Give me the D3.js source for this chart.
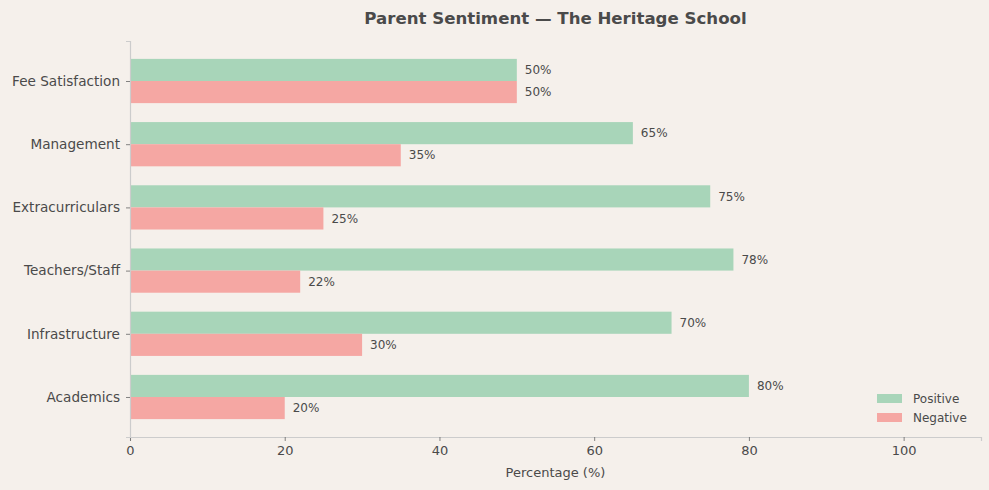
<!DOCTYPE html>
<html>
<head>
<meta charset="utf-8">
<script src="https://cdn.jsdelivr.net/npm/d3@7"></script>
<style>
  body { margin: 0; background: #f5f0eb; }
  svg, svg text { font-family: "DejaVu Sans", sans-serif; }
</style>
</head>
<body>
<div id="chart"></div>
<script>
const categories = ["Fee Satisfaction", "Management", "Extracurriculars", "Teachers/Staff", "Infrastructure", "Academics"];
const positive = [50, 65, 75, 78, 70, 80];
const negative = [50, 35, 25, 22, 30, 20];
const xTicks = [0, 20, 40, 60, 80, 100];
const seriesNames = ["Positive", "Negative"];
const colors = ["#a8d5b9", "#f5a7a3"];

const W = 989, H = 490;
const margin = { top: 41, right: 8, bottom: 53, left: 130 };
const width = W - margin.left - margin.right;
const height = H - margin.top - margin.bottom;
const textColor = "#4a4a4a";
const font = "DejaVu Sans, sans-serif";

const svg = d3.select("#chart").append("svg")
  .attr("width", W).attr("height", H);

svg.append("rect").attr("width", W).attr("height", H).attr("fill", "#f5f0eb");

const g = svg.append("g")
  .attr("transform", "translate(" + margin.left + "," + margin.top + ")");

const x = d3.scaleLinear().domain([0, 110]).range([0, width]);
const y = d3.scalePoint().domain(categories).range([0, height]).padding(0.633);
const step = y.step();
const barH = step * 0.35;

// bars
const data = categories.map((c, i) => ({ cat: c, pos: positive[i], neg: negative[i] }));

g.selectAll(".bar-pos").data(data).enter().append("rect")
  .attr("x", x(0))
  .attr("y", d => y(d.cat) - barH)
  .attr("width", d => x(d.pos) - x(0))
  .attr("height", barH)
  .attr("fill", colors[0]);

g.selectAll(".bar-neg").data(data).enter().append("rect")
  .attr("x", x(0))
  .attr("y", d => y(d.cat))
  .attr("width", d => x(d.neg) - x(0))
  .attr("height", barH)
  .attr("fill", colors[1]);

g.selectAll(".lab-pos").data(data).enter().append("text")
  .attr("x", d => x(d.pos) + 8)
  .attr("y", d => y(d.cat) - barH / 2)
  .attr("dy", "0.35em")
  .attr("fill", textColor)
  .style("font-size", "12px")
  .text(d => d.pos + "%");

g.selectAll(".lab-neg").data(data).enter().append("text")
  .attr("x", d => x(d.neg) + 8)
  .attr("y", d => y(d.cat) + barH / 2)
  .attr("dy", "0.35em")
  .attr("fill", textColor)
  .style("font-size", "12px")
  .text(d => d.neg + "%");

// axes
const xAxis = g.append("g")
  .attr("transform", "translate(0," + height + ")")
  .call(d3.axisBottom(x).tickValues(xTicks).tickSize(4).tickPadding(5));

const yAxis = g.append("g")
  .call(d3.axisLeft(y).tickSize(4).tickPadding(6));

[xAxis, yAxis].forEach(a => {
  a.attr("font-family", font).attr("font-size", 13);
  a.select(".domain").attr("stroke", "#cccccc").attr("stroke-width", 1.2);
  a.selectAll(".tick line").attr("stroke", "#666").attr("stroke-width", 0.8);
  a.selectAll(".tick text").attr("fill", textColor).style("font-size", "13px").style("font-family", font);
});
yAxis.selectAll(".tick text").style("font-size", "13.6px");

g.append("text")
  .attr("x", width / 2)
  .attr("y", height + 40)
  .attr("text-anchor", "middle")
  .attr("fill", textColor)
  .style("font-size", "13px")
  .text("Percentage (%)");

// title
g.append("text")
  .attr("x", width / 2)
  .attr("y", -17)
  .attr("text-anchor", "middle")
  .attr("fill", textColor)
  .style("font-size", "16.6px")
  .style("font-weight", "bold")
  .text("Parent Sentiment \u2014 The Heritage School");

// legend
const legend = g.append("g")
  .attr("transform", "translate(" + (747) + "," + (353) + ")");

seriesNames.forEach((s, i) => {
  const row = legend.append("g").attr("transform", "translate(0," + i * 19 + ")");
  row.append("rect").attr("width", 25).attr("height", 9).attr("fill", colors[i]);
  row.append("text")
    .attr("x", 36).attr("y", 4.5).attr("dy", "0.35em")
    .attr("fill", textColor)
    .style("font-size", "12px")
    .text(s);
});
</script>
</body>
</html>
